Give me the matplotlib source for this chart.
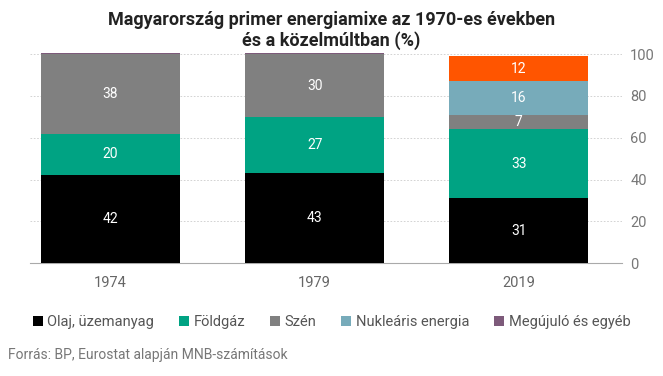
import numpy as np
import matplotlib.pyplot as plt

plt.rcParams['font.family'] = ['Roboto', 'DejaVu Sans']

years = ['1974', '1979', '2019']
olaj = [42, 43, 31]
foldgaz = [20, 27, 33]
szen = [38, 30, 7]
nuklearis = [0, 0, 16]
megujulo = [0.4, 0.4, 12]

series = [('Olaj, üzemanyag', olaj, '#000000'),
          ('Földgáz', foldgaz, '#00a383'),
          ('Szén', szen, '#808080'),
          ('Nukleáris energia', nuklearis, '#77abba'),
          ('Megújuló és egyéb', megujulo, '#7d5a7a')]

fig = plt.figure(figsize=(6.63, 3.76), dpi=100)
ax = fig.add_axes([0.045, 0.30, 0.893, 0.556])

x = np.arange(len(years))
bottom = np.zeros(len(years))
for name, vals, col in series:
    vals = np.array(vals, dtype=float)
    cols = [col] * len(years)
    if name == 'Megújuló és egyéb':
        cols[2] = '#ff5500'  # 2019 highlighted
    ax.bar(x, vals, 0.68, bottom=bottom, color=cols, label=name, zorder=3, clip_on=False)
    for i, v in enumerate(vals):
        if v >= 5:
            ax.text(x[i], bottom[i] + v / 2, f'{v:.0f}', ha='center', va='center',
                    color='white', fontsize=10, zorder=4)
    bottom += vals

ax.set_xlim(-0.395, 2.505)
ax.set_ylim(0, 100)
ax.set_yticks([0, 20, 40, 60, 80, 100])
ax.yaxis.tick_right()
ax.tick_params(axis='y', length=0, labelsize=10.5, labelcolor='#777777', pad=6)
ax.set_xticks(x)
ax.set_xticklabels(years)
ax.tick_params(axis='x', length=0, labelsize=10.5, labelcolor='#666666', pad=9)
ax.grid(axis='y', color='#cccccc', linestyle=(0, (2, 2)), linewidth=0.6, zorder=0)
for s in ['top', 'left', 'right']:
    ax.spines[s].set_visible(False)
ax.spines['bottom'].set_color('#aaaaaa')

fig.text(0.5, 0.97, 'Magyarország primer energiamixe az 1970-es években\nés a közelmúltban (%)',
         ha='center', va='top', fontsize=13, fontweight='bold', color='#222222', linespacing=1.1)

leg = fig.legend(loc='center', bbox_to_anchor=(0.5, 0.143), ncol=5, frameon=False,
                 fontsize=10.5, handlelength=0.7, handleheight=0.7, handletextpad=0.3,
                 columnspacing=1.7)
for t in leg.get_texts():
    t.set_color('#555555')

fig.text(0.012, 0.055, 'Forrás: BP, Eurostat alapján MNB-számítások', fontsize=10,
         color='#777777', va='center')

fig.savefig('out.png', dpi=100)
